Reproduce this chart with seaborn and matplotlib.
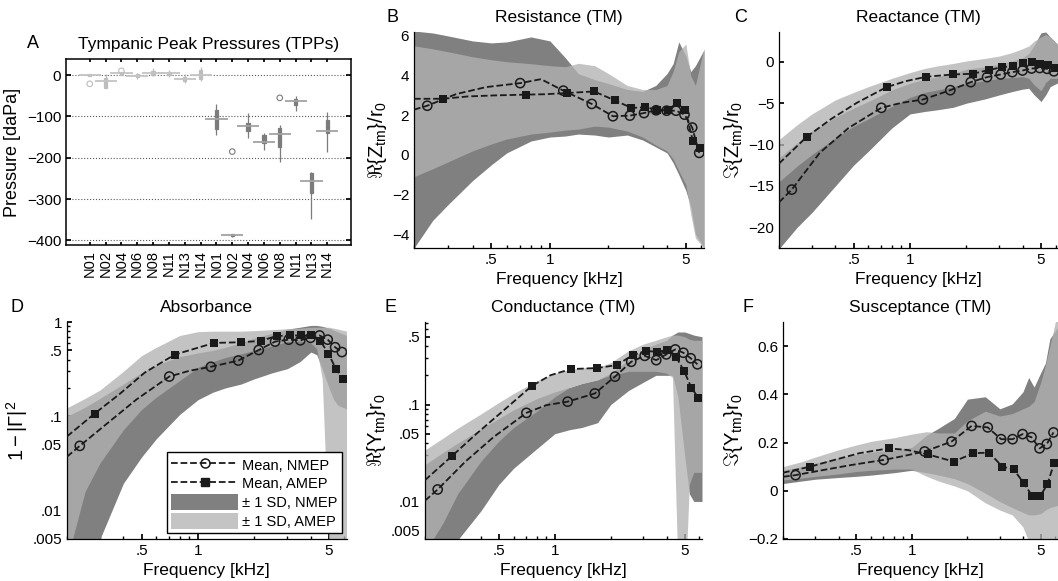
import numpy as np
import pandas as pd
import matplotlib
matplotlib.use("Agg")
import matplotlib.pyplot as plt
import seaborn as sns
from matplotlib.ticker import LogLocator, NullFormatter
from matplotlib.lines import Line2D
from matplotlib.patches import Patch

# ---------------- panel A: tympanic peak pressures (daPa) ----------------
EARS = ["N01", "N02", "N04", "N06", "N08", "N11", "N13", "N14"]
NMEP_LO = [-2, -32, 1, -10, -2, -4, -20, -14.5]
NMEP_Q1 = [-1.5, -30, 1.5, -5.5, 0, 0, -14, -10]
NMEP_MED = [1.5, -14, 4, -2.5, 4, 4, -10, 0]
NMEP_Q3 = [2, -6, 6.5, 2.5, 10, 8, -4, 12]
NMEP_HI = [2.5, 2, 7, 4, 18, 12, 2.5, 18.5]
AMEP_LO = [-145, -391, -151, -181, -211, -86, -347, -185]
AMEP_Q1 = [-131, -390, -135, -165, -173, -72, -284, -141]
AMEP_MED = [-105, -386, -122, -161, -143, -62, -256, -134]
AMEP_Q3 = [-85, -385, -115, -145, -129, -57, -238, -109]
AMEP_HI = [-71, -384, -91, -141, -121, -51, -235, -90]
OUT_GROUP = ["NMEP", "NMEP", "AMEP", "AMEP"]
OUT_EAR = ["N01", "N04", "N02", "N08"]
OUT_VAL = [-21, 10.5, -185, -55]

# ---------------- panels B-F: frequency curves ----------------
# dashed mean curves (markers sit on the listed marker frequencies)
FC_N = [0.2, 0.234, 0.33, 0.47, 0.703, 0.9, 1.172, 1.641, 2.109, 2.578, 3.047,
        3.516, 3.984, 4.453, 4.922, 5.391, 5.859]
FC_A = [0.2, 0.281, 0.38, 0.52, 0.750, 0.95, 1.219, 1.688, 2.156, 2.625, 3.094,
        3.563, 4.031, 4.500, 4.969, 5.438, 5.906]
MARK_IDX = [1, 4, 6, 7, 8, 9, 10, 11, 12, 13, 14, 15, 16]

RES_N = [2.28, 2.48, 3.07, 3.42, 3.62, 3.82, 3.24, 2.57, 1.95, 1.98, 2.11, 2.25, 2.23, 2.23, 2.03, 1.38, 0.10]
RES_A = [2.83, 2.83, 2.95, 3.00, 3.04, 3.06, 3.12, 3.20, 2.75, 2.37, 2.40, 2.28, 2.25, 2.62, 2.25, 0.69, 0.36]
REA_N = [-16.98, -15.44, -11.0, -8.0, -5.56, -4.96, -4.56, -3.43, -2.46, -1.85, -1.53, -1.25, -1.05, -0.81, -0.75, -0.85, -1.15]
REA_A = [-12.3, -9.07, -6.9, -4.96, -3.06, -2.34, -1.81, -1.53, -1.45, -1.0, -0.65, -0.52, -0.12, 0.0, -0.24, -0.44, -0.7]
ABS_N = [0.0373, 0.0486, 0.085, 0.151, 0.264, 0.304, 0.335, 0.39, 0.505, 0.62, 0.65, 0.64, 0.68, 0.72, 0.65, 0.54, 0.48]
ABS_A = [0.0612, 0.107, 0.171, 0.291, 0.45, 0.518, 0.60, 0.61, 0.63, 0.71, 0.72, 0.72, 0.72, 0.63, 0.46, 0.32, 0.25]
CON_N = [0.0102, 0.0133, 0.0258, 0.0465, 0.082, 0.0986, 0.107, 0.130, 0.194, 0.276, 0.318, 0.287, 0.329, 0.37, 0.342, 0.30, 0.26]
CON_A = [0.0166, 0.0297, 0.0503, 0.0842, 0.155, 0.201, 0.232, 0.238, 0.255, 0.324, 0.356, 0.350, 0.365, 0.31, 0.221, 0.149, 0.118]
SUS_N = [0.058, 0.065, 0.086, 0.107, 0.128, 0.144, 0.163, 0.204, 0.269, 0.263, 0.214, 0.214, 0.235, 0.222, 0.176, 0.194, 0.242]
SUS_A = [0.075, 0.10, 0.128, 0.156, 0.176, 0.169, 0.151, 0.121, 0.156, 0.158, 0.10, 0.089, 0.033, -0.022, -0.022, 0.028, 0.115]

# +/- 1 SD bands
F_BAND = [0.2, 0.25, 0.3, 0.4, 0.5, 0.6, 0.8, 1.0, 1.2, 1.4, 1.7, 2.0, 2.5, 3.0,
          3.5, 4.0, 4.3, 4.6, 5.0, 5.3, 5.6, 6.2]
RES_NU = [6.25, 6.15, 6.0, 5.75, 5.65, 5.7, 5.95, 5.75, 4.9, 4.1, 3.8, 3.6, 3.3, 3.2, 3.5, 4.1, 4.6, 5.7, 5.0, 4.2, 4.5, 5.3]
RES_NL = [-4.7, -3.3, -2.5, -1.3, -0.5, 0.1, 0.7, 0.9, 0.95, 1.05, 1.0, 0.9, 1.0, 0.75, 0.4, 0.1, -0.4, -1.0, -1.8, -2.6, -4.0, -4.7]
RES_AU = [5.5, 5.35, 5.2, 4.95, 4.8, 4.7, 4.6, 4.5, 4.45, 4.62, 4.5, 4.1, 3.5, 3.3, 3.3, 3.5, 4.2, 5.2, 5.6, 4.0, 3.5, 5.4]
RES_AL = [-1.1, -0.7, -0.35, 0.2, 0.55, 0.8, 1.05, 1.15, 1.25, 1.3, 1.45, 1.4, 1.2, 0.9, 0.5, 0.2, -0.2, -0.8, -1.5, -3.0, -4.2, -4.7]
REA_NU = [-11.6, -9.8, -8.4, -6.7, -5.6, -4.8, -3.4, -2.6, -2.1, -1.8, -1.4, -0.9, -0.6, -0.3, 0.1, 0.5, 1.0, 2.0, 3.5, 3.6, 3.0, 2.0]
REA_NL = [-22.6, -20.0, -18.2, -15.0, -12.5, -10.8, -8.0, -6.3, -6.0, -5.8, -5.5, -5.0, -4.5, -4.0, -3.6, -3.3, -3.2, -4.0, -4.8, -4.0, -3.0, -2.5]
REA_AU = [-9.4, -7.6, -6.3, -4.6, -3.7, -3.0, -2.0, -1.3, -0.8, -0.5, -0.2, 0.1, 0.4, 0.7, 1.1, 1.6, 1.9, 2.5, 3.0, 3.3, 3.0, 2.0]
REA_AL = [-14.5, -12.6, -11.2, -9.2, -7.8, -6.9, -5.4, -4.3, -3.7, -3.4, -3.0, -2.6, -2.3, -2.0, -1.9, -1.8, -2.0, -2.8, -3.5, -2.5, -2.0, -2.0]
ABS_NU = [0.100, 0.125, 0.155, 0.22, 0.29, 0.35, 0.43, 0.47, 0.50, 0.54, 0.60, 0.68, 0.76, 0.84, 0.88, 0.92, 0.92, 0.90, 0.86, 0.82, 0.78, 0.72]
ABS_NL = [0.003, 0.003, 0.005, 0.0195, 0.037, 0.058, 0.105, 0.15, 0.18, 0.20, 0.22, 0.25, 0.29, 0.32, 0.38, 0.48, 0.45, 0.32, 0.20, 0.15, 0.13, 0.12]
ABS_AU = [0.123, 0.155, 0.19, 0.30, 0.44, 0.54, 0.72, 0.79, 0.80, 0.80, 0.80, 0.81, 0.83, 0.85, 0.86, 0.88, 0.88, 0.88, 0.88, 0.86, 0.84, 0.80]
ABS_AL = [0.003, 0.016, 0.032, 0.072, 0.118, 0.16, 0.24, 0.33, 0.38, 0.42, 0.46, 0.50, 0.56, 0.62, 0.63, 0.60, 0.52, 0.25, 0.004, 0.003, 0.003, 0.003]
CON_NU = [0.024, 0.032, 0.040, 0.056, 0.072, 0.088, 0.115, 0.135, 0.15, 0.165, 0.18, 0.21, 0.29, 0.37, 0.42, 0.46, 0.52, 0.56, 0.56, 0.54, 0.52, 0.50]
CON_NL = [0.002, 0.003, 0.004, 0.008, 0.015, 0.022, 0.035, 0.05, 0.055, 0.058, 0.065, 0.10, 0.14, 0.17, 0.20, 0.20, 0.20, 0.12, 0.03, 0.012, 0.01, 0.01]
CON_AU = [0.034, 0.045, 0.057, 0.08, 0.105, 0.13, 0.175, 0.21, 0.23, 0.24, 0.24, 0.27, 0.36, 0.42, 0.46, 0.50, 0.52, 0.52, 0.50, 0.47, 0.46, 0.46]
CON_AL = [0.003, 0.006, 0.012, 0.026, 0.042, 0.058, 0.085, 0.12, 0.15, 0.165, 0.18, 0.20, 0.22, 0.22, 0.22, 0.21, 0.19, 0.002, 0.001, 0.015, 0.02, 0.02]
SUS_NU = [0.085, 0.10, 0.115, 0.135, 0.15, 0.16, 0.17, 0.18, 0.23, 0.26, 0.30, 0.38, 0.39, 0.34, 0.36, 0.41, 0.47, 0.43, 0.49, 0.53, 0.63, 0.68]
SUS_NL = [0.03, 0.04, 0.048, 0.055, 0.06, 0.065, 0.075, 0.085, 0.075, 0.065, 0.05, 0.03, -0.01, -0.045, -0.07, -0.09, -0.1, -0.1, -0.095, -0.08, -0.07, -0.06]
SUS_AU = [0.10, 0.12, 0.14, 0.17, 0.19, 0.205, 0.22, 0.235, 0.245, 0.24, 0.24, 0.29, 0.33, 0.31, 0.32, 0.34, 0.35, 0.37, 0.45, 0.52, 0.60, 0.75]
SUS_AL = [0.045, 0.052, 0.06, 0.07, 0.08, 0.085, 0.09, 0.09, 0.06, 0.04, 0.02, 0.0, -0.05, -0.08, -0.1, -0.15, -0.21, -0.21, -0.21, -0.21, -0.21, -0.21]

C_NMEP = "#808080"
C_AMEP = "#b2b2b2"
A_AMEP = 0.77
C_BOX_N = "#bdbdbd"
C_BOX_A = "#7c7c7c"

sns.set_theme(style="ticks")
plt.rcParams["font.family"] = ["Liberation Sans", "DejaVu Sans"]
plt.rcParams.update({
    "mathtext.fontset": "custom",
    "mathtext.rm": "Liberation Sans",
    "mathtext.it": "Liberation Sans",
    "mathtext.bf": "Liberation Sans:bold",
    "axes.edgecolor": "black",
    "axes.labelcolor": "black",
    "text.color": "black",
    "axes.linewidth": 0.9,
    "xtick.color": "black",
    "ytick.color": "black",
    "xtick.direction": "in",
    "ytick.direction": "in",
    "xtick.major.size": 3.5,
    "ytick.major.size": 3.5,
    "xtick.minor.size": 2,
    "ytick.minor.size": 2,
    "xtick.labelsize": 11,
    "ytick.labelsize": 11,
    "axes.labelsize": 12.5,
    "axes.titlesize": 12.5,
})

W, H = 1058, 581
fig = plt.figure(figsize=(W / 100, H / 100), dpi=100)


def px_axes(left, right, top, bottom):
    return fig.add_axes([left / W, 1 - bottom / H, (right - left) / W, (bottom - top) / H])


# ---------------- A ----------------
axA = px_axes(66, 351, 59, 245)


def long_form(lo, q1, med, q3, hi, start):
    rows = []
    for i, vals in enumerate(zip(lo, q1, med, q3, hi)):
        for v in vals:
            rows.append({"pos": start + i, "tpp": v})
    return pd.DataFrame(rows)


df_n = long_form(NMEP_LO, NMEP_Q1, NMEP_MED, NMEP_Q3, NMEP_HI, 1)
df_a = long_form(AMEP_LO, AMEP_Q1, AMEP_MED, AMEP_Q3, AMEP_HI, 9)
for df, c in ((df_n, C_BOX_N), (df_a, C_BOX_A)):
    sns.boxplot(data=df, x="pos", y="tpp", native_scale=True, width=0.22,
                color=c, linecolor=c, whis=np.inf, showcaps=False,
                showfliers=False, linewidth=0.9, ax=axA,
                medianprops=dict(color=c, linewidth=0.5))

pos_n = np.arange(1, 9)
pos_a = np.arange(9, 17)
axA.hlines(NMEP_MED, pos_n - 0.7, pos_n + 0.7, color="#c4c4c4", lw=1.3, zorder=3)
axA.hlines(AMEP_MED, pos_a - 0.7, pos_a + 0.7, color="#a2a2a2", lw=1.3, zorder=3)

out_pos = [EARS.index(e) + (1 if g == "NMEP" else 9) for g, e in zip(OUT_GROUP, OUT_EAR)]
out_col = [C_BOX_N if g == "NMEP" else C_BOX_A for g in OUT_GROUP]
sns.scatterplot(x=out_pos, y=OUT_VAL, ax=axA, marker="o", s=16,
                facecolor="none", edgecolor=out_col, linewidth=0.8, zorder=4)

axA.set_xlim(-0.5, 17.5)
axA.set_ylim(-411, 39)
axA.set_yticks([0, -100, -200, -300, -400])
axA.set_xticks(np.arange(1, 17))
axA.set_xticklabels(EARS + EARS, rotation=90, fontsize=10.5)
axA.set_xlabel("")
axA.set_ylabel("Pressure [daPa]", fontsize=13)
axA.grid(axis="y", ls=":", color="0.35", lw=0.8)
axA.tick_params(axis="y", right=True)
axA.tick_params(axis="x", top=True, length=2)
for s in axA.spines.values():
    s.set_linewidth(1.1)
axA.set_title("Tympanic Peak Pressures (TPPs)", pad=7)


# ---------------- B-F ----------------
def sd_panel(ax, nl, nu, al, au, cn, ca):
    ax.fill_between(F_BAND, nl, nu, color=C_NMEP, lw=0, zorder=1)
    ax.fill_between(F_BAND, al, au, color=C_AMEP, alpha=A_AMEP, lw=0, zorder=2)
    sns.lineplot(x=FC_N, y=cn, ax=ax, color="k", linestyle="--", linewidth=1.3,
                 estimator=None, sort=False, zorder=3)
    sns.lineplot(x=FC_A, y=ca, ax=ax, color="k", linestyle="--", linewidth=1.3,
                 estimator=None, sort=False, zorder=3)
    sns.scatterplot(x=np.array(FC_N)[MARK_IDX], y=np.array(cn)[MARK_IDX], ax=ax,
                    marker="o", s=44, facecolor="none", edgecolor="k",
                    linewidth=1.1, zorder=4)
    sns.scatterplot(x=np.array(FC_A)[MARK_IDX], y=np.array(ca)[MARK_IDX], ax=ax,
                    marker="s", s=32, color="k", linewidth=0, zorder=4)
    ax.set_xscale("log")
    ax.set_xlim(0.2, 6.2)
    ax.set_xticks([0.5, 1, 5])
    ax.set_xticklabels([".5", "1", "5"])
    ax.xaxis.set_minor_locator(LogLocator(base=10, subs=np.arange(2, 10), numticks=12))
    ax.xaxis.set_minor_formatter(NullFormatter())
    ax.set_xlabel("Frequency [kHz]")
    sns.despine(ax=ax)


def log_y(ax, lo, hi, ticks, labels):
    ax.set_yscale("log")
    ax.set_ylim(lo, hi)
    ax.set_yticks(ticks)
    ax.set_yticklabels(labels)
    ax.yaxis.set_minor_locator(LogLocator(base=10, subs=np.arange(2, 10), numticks=12))
    ax.yaxis.set_minor_formatter(NullFormatter())


YL = 14.5

axB = px_axes(414, 704, 32, 248)
sd_panel(axB, RES_NL, RES_NU, RES_AL, RES_AU, RES_N, RES_A)
axB.set_ylim(-4.7, 6.2)
axB.set_yticks([-4, -2, 0, 2, 4, 6])
axB.set_ylabel(r"$\Re\{Z_{tm}\}/r_0$", fontsize=YL, labelpad=2)
axB.set_title("Resistance (TM)", pad=7)

axC = px_axes(779, 1058.5, 32, 248)
sd_panel(axC, REA_NL, REA_NU, REA_AL, REA_AU, REA_N, REA_A)
axC.set_ylim(-22.5, 3.6)
axC.set_yticks([-20, -15, -10, -5, 0])
axC.set_ylabel(r"$\Im\{Z_{tm}\}/r_0$", fontsize=YL, labelpad=2)
axC.set_title("Reactance (TM)", pad=7)

axD = px_axes(67, 346.5, 322, 539)
sd_panel(axD, ABS_NL, ABS_NU, ABS_AL, ABS_AU, ABS_N, ABS_A)
log_y(axD, 0.005, 1.0, [0.005, 0.01, 0.05, 0.1, 0.5, 1], [".005", ".01", ".05", ".1", ".5", "1"])
axD.set_ylabel(r"$1-|\Gamma|^2$", fontsize=YL, labelpad=2)
axD.set_title("Absorbance", pad=7)

axE = px_axes(425, 702, 322, 539)
sd_panel(axE, CON_NL, CON_NU, CON_AL, CON_AU, CON_N, CON_A)
log_y(axE, 0.0041, 0.71, [0.005, 0.01, 0.05, 0.1, 0.5], [".005", ".01", ".05", ".1", ".5"])
axE.set_ylabel(r"$\Re\{Y_{tm}\}r_0$", fontsize=YL, labelpad=2)
axE.set_title("Conductance (TM)", pad=7)

axF = px_axes(783, 1058, 322, 539)
sd_panel(axF, SUS_NL, SUS_NU, SUS_AL, SUS_AU, SUS_N, SUS_A)
axF.set_ylim(-0.2, 0.7)
axF.set_yticks([-0.2, 0, 0.2, 0.4, 0.6])
axF.set_yticklabels(["\u22120.2", "0", "0.2", "0.4", "0.6"])
axF.set_ylabel(r"$\Im\{Y_{tm}\}r_0$", fontsize=YL, labelpad=2)
axF.set_title("Susceptance (TM)", pad=7)

# legend in D
handles = [
    Line2D([], [], color="k", ls="--", lw=1.3, marker="o", mfc="none", mec="k", ms=6.5, mew=1.1),
    Line2D([], [], color="k", ls="--", lw=1.3, marker="s", mfc="k", mec="k", ms=5.5),
    Patch(facecolor=C_NMEP, edgecolor="none"),
    Patch(facecolor="#c4c4c4", edgecolor="none"),
]
labels = ["Mean, NMEP", "Mean, AMEP", "\u00b1 1 SD, NMEP", "\u00b1 1 SD, AMEP"]
leg = axD.legend(handles, labels, loc="lower right", bbox_to_anchor=(0.995, 0.012),
                 fontsize=10.5, frameon=True, fancybox=False, framealpha=1,
                 edgecolor="black", handlelength=4.6, handleheight=1.3,
                 handletextpad=0.3, labelspacing=0.2, borderpad=0.3,
                 borderaxespad=0.2, numpoints=1)
leg.get_frame().set_linewidth(1.0)
leg.set_zorder(10)

# panel letters
for letter, x, y in (("A", 33, 43), ("B", 392, 17), ("C", 741, 17),
                     ("D", 17, 307), ("E", 390, 307), ("F", 748, 307)):
    fig.text(x / W, 1 - y / H, letter, fontsize=13, ha="center", va="center")

fig.savefig("out.png", dpi=100)
